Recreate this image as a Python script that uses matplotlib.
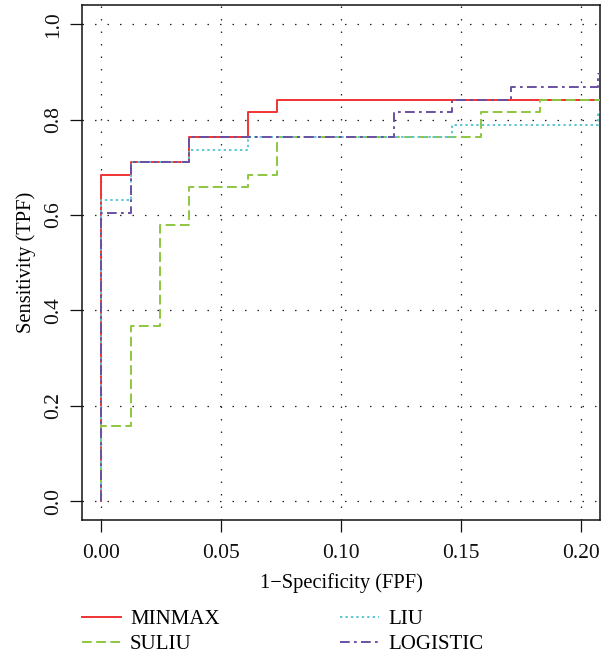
import numpy as np
import matplotlib
matplotlib.use("Agg")
import matplotlib.pyplot as plt

plt.rcParams['font.family'] = ['Liberation Serif', 'DejaVu Serif']

# ROC step curves (FPF, TPF)
minmax_fpf = [0, 0, 0.0122, 0.0366, 0.0610, 0.0732, 0.25]
minmax_tpf = [0, 0.684, 0.711, 0.763, 0.816, 0.842, 0.842]

suliu_fpf = [0, 0, 0.0122, 0.0244, 0.0366, 0.0610, 0.0732, 0.1585, 0.1829, 0.25]
suliu_tpf = [0, 0.158, 0.368, 0.579, 0.658, 0.684, 0.763, 0.816, 0.842, 0.842]

liu_fpf = [0, 0, 0.0122, 0.0366, 0.0610, 0.1463, 0.2073, 0.25]
liu_tpf = [0, 0.632, 0.711, 0.737, 0.763, 0.789, 0.816, 0.816]

logistic_fpf = [0, 0, 0.0122, 0.0366, 0.1220, 0.1463, 0.1707, 0.2073, 0.25]
logistic_tpf = [0, 0.605, 0.711, 0.763, 0.816, 0.842, 0.868, 0.895, 0.895]

xticks = [0.00, 0.05, 0.10, 0.15, 0.20]
xticklabels = ['0.00', '0.05', '0.10', '0.15', '0.20']
yticks = [0.0, 0.2, 0.4, 0.6, 0.8, 1.0]
yticklabels = ['0.0', '0.2', '0.4', '0.6', '0.8', '1.0']

fig = plt.figure(figsize=(6.08, 6.55), dpi=100)
ax = fig.add_axes([0.135, 0.206, 0.852, 0.786])

lw = 1.4
ax.step(minmax_fpf, minmax_tpf, where='post', color='#F03333', lw=lw,
        label='MINMAX', zorder=3)
ax.step(suliu_fpf, suliu_tpf, where='post', color='#8DC63F', lw=lw,
        dashes=(5, 2.3), label='SULIU', zorder=4)
ax.step(liu_fpf, liu_tpf, where='post', color='#5CC6D6', lw=lw,
        dashes=(1.2, 1.6), label='LIU', zorder=5)
ax.step(logistic_fpf, logistic_tpf, where='post', color='#6A50A2', lw=lw,
        dashes=(5, 2.2, 1.4, 2.2), label='LOGISTIC', zorder=6)

# grid lines (R-style dotted)
for x in xticks:
    ax.axvline(x, color='#222222', lw=0.9, dashes=(1.2, 8.8), zorder=1)
for y in yticks:
    ax.axhline(y, color='#222222', lw=0.9, dashes=(1.2, 8.8), zorder=1)

ax.set_xlim(-0.008, 0.208)
ax.set_ylim(-0.04, 1.04)
ax.set_xticks(xticks)
ax.set_xticklabels(xticklabels)
ax.set_yticks(yticks)
ax.set_yticklabels(yticklabels, rotation=90, va='center')
ax.tick_params(direction='out', length=8.5, width=0.9, labelsize=15.5,
               colors='#111111')
ax.tick_params(axis='x', pad=9)
ax.tick_params(axis='y', pad=5)
for s in ax.spines.values():
    s.set_linewidth(1.1)
    s.set_color('#111111')

ax.set_xlabel('1\u2212Specificity (FPF)', fontsize=14.8, labelpad=7)
ax.set_ylabel('Sensitivity (TPF)', fontsize=14.8, labelpad=6)

fig.legend(loc='upper left', bbox_to_anchor=(0.135, 0.069), ncol=2,
           frameon=False, fontsize=15, handlelength=1.85, handletextpad=0.45,
           columnspacing=5.8, borderpad=0, borderaxespad=0, labelspacing=0.25)

fig.savefig('out.png', dpi=100)
